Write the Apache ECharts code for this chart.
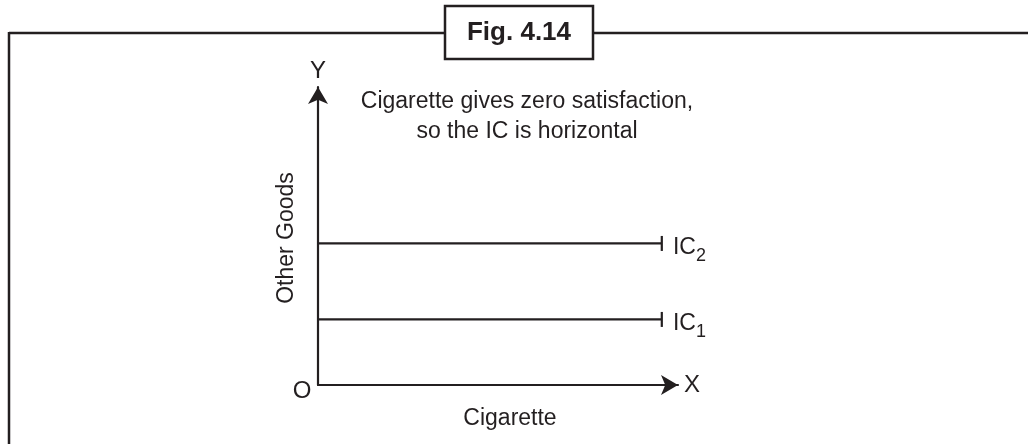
<!DOCTYPE html>
<html>
<head>
<meta charset="utf-8">
<script src="https://cdn.jsdelivr.net/npm/echarts@6/dist/echarts.min.js"></script>
<style>html,body{margin:0;padding:0;background:#fff;}#c{width:1028px;height:444px;}</style>
</head>
<body>
<div id="c"></div>
<script>
// Data
var curveNames = ['IC1', 'IC2'];
var curveSubs = ['1', '2'];
var curveLevels = [2.2, 4.75];      // Other Goods level (constant)
var curveXStart = [0, 0];
var curveXEnd = [9.55, 9.55];       // Cigarette extent
var axisLabels = {x: 'X', y: 'Y', origin: 'O'};
var axisTitles = {x: 'Cigarette', y: 'Other Goods'};
var noteLines = ['Cigarette gives zero satisfaction,', 'so the IC is horizontal'];
var figTitle = 'Fig. 4.14';

var FONT = '"Liberation Sans", Arial, Helvetica, sans-serif';
var INK = '#231f20';
var chart = echarts.init(document.getElementById('c'), null, {renderer: 'canvas'});

var series = curveNames.map(function (n, i) {
  return {
    type: 'line',
    name: n,
    silent: true,
    animation: false,
    lineStyle: {color: INK, width: 2.2},
    data: [
      {value: [curveXStart[i], curveLevels[i]], symbol: 'none'},
      {value: [curveXEnd[i], curveLevels[i]], symbol: 'rect', symbolSize: [2.2, 15],
        itemStyle: {color: INK},
        label: {show: true, position: 'right', distance: 10, color: INK, fontFamily: FONT,
          formatter: 'IC{s|' + curveSubs[i] + '}',
          fontSize: 23, offset: [0, 4],
          rich: {s: {fontSize: 18, fontFamily: FONT, color: INK, padding: [17, 0, 0, 0]}}}}
    ]
  };
});

chart.setOption({
  animation: false,
  grid: {left: 318, top: 87, width: 360, height: 298},
  xAxis: {
    type: 'value', min: 0, max: 10,
    axisLine: {show: true, lineStyle: {color: INK, width: 2.2}, symbol: ['none', 'arrow'], symbolSize: [15, 17], symbolOffset: [0, 0]},
    axisTick: {show: false}, axisLabel: {show: false}, splitLine: {show: false},
    name: axisLabels.x, nameLocation: 'end', nameGap: 6,
    nameTextStyle: {fontFamily: FONT, fontSize: 24, color: INK, verticalAlign: 'middle', padding: [6, 0, 0, 0]}
  },
  yAxis: {
    type: 'value', min: 0, max: 10,
    axisLine: {show: true, lineStyle: {color: INK, width: 2.2}, symbol: ['none', 'arrow'], symbolSize: [15, 17]},
    axisTick: {show: false}, axisLabel: {show: false}, splitLine: {show: false},
    name: axisLabels.y, nameLocation: 'end', nameGap: 4,
    nameTextStyle: {fontFamily: FONT, fontSize: 24, color: INK, align: 'center'}
  },
  series: series,
  graphic: [
    {type: 'line', shape: {x1: 9, y1: 33, x2: 1028, y2: 33}, style: {stroke: INK, lineWidth: 2.5}},
    {type: 'line', shape: {x1: 9, y1: 32, x2: 9, y2: 444}, style: {stroke: INK, lineWidth: 2.5}},
    {type: 'rect', shape: {x: 445, y: 6, width: 148, height: 53}, style: {fill: '#fff', stroke: INK, lineWidth: 2.5}},
    {type: 'text', x: 519, y: 33, style: {text: figTitle, font: 'bold 26px ' + FONT, fill: INK, textAlign: 'center', textVerticalAlign: 'middle'}},
    {type: 'text', x: 527, y: 102, style: {text: noteLines[0], font: '23px ' + FONT, fill: INK, textAlign: 'center', textVerticalAlign: 'middle'}},
    {type: 'text', x: 527, y: 132, style: {text: noteLines[1], font: '23px ' + FONT, fill: INK, textAlign: 'center', textVerticalAlign: 'middle'}},
    {type: 'text', x: 302, y: 391, style: {text: axisLabels.origin, font: '24px ' + FONT, fill: INK, textAlign: 'center', textVerticalAlign: 'middle'}},
    {type: 'text', x: 510, y: 419, style: {text: axisTitles.x, font: '23px ' + FONT, fill: INK, textAlign: 'center', textVerticalAlign: 'middle'}},
    {type: 'text', x: 287, y: 238, rotation: Math.PI / 2, style: {text: axisTitles.y, font: '23px ' + FONT, fill: INK, textAlign: 'center', textVerticalAlign: 'middle'}}
  ]
});
</script>
</body>
</html>
